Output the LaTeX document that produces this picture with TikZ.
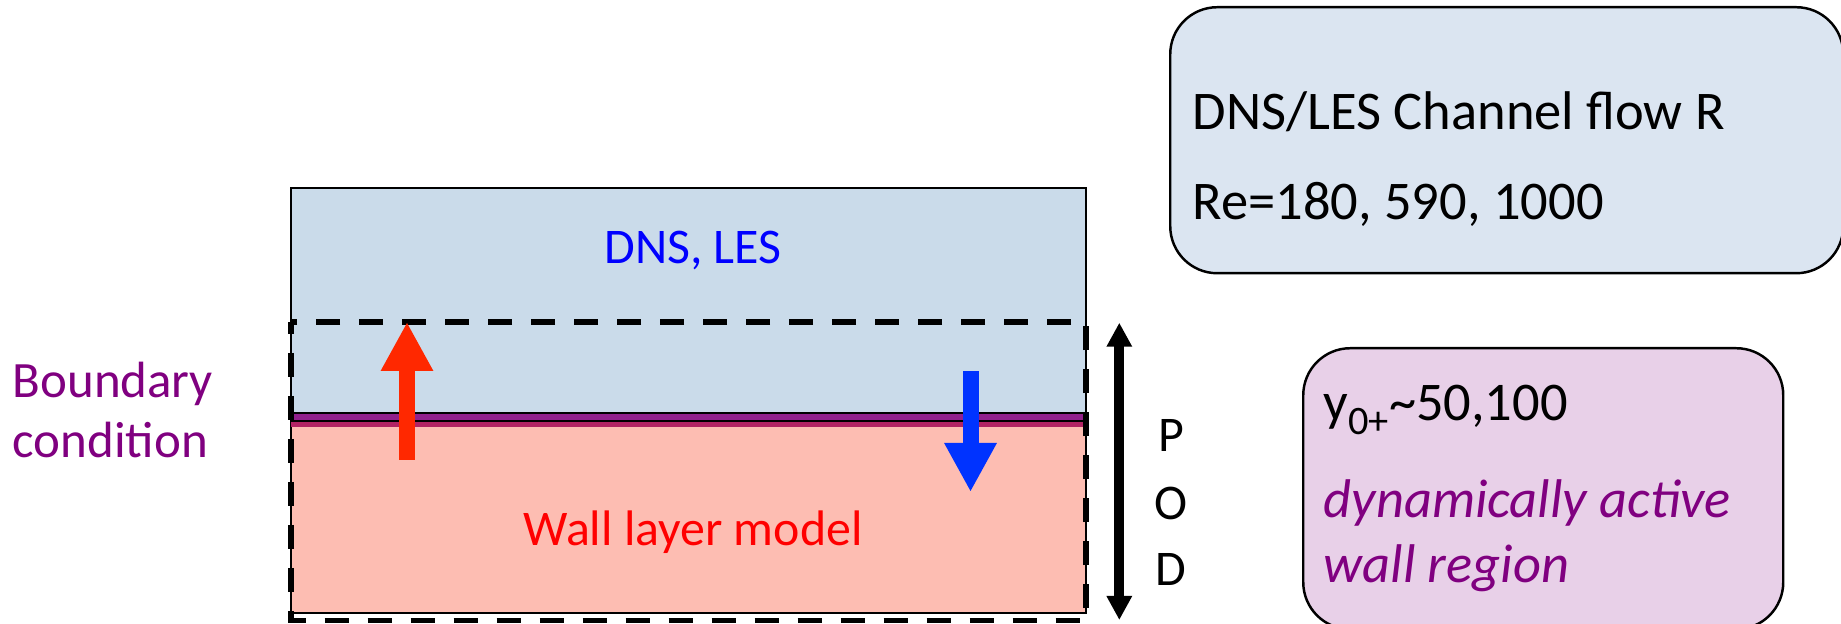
\documentclass[tikz,border=0pt]{standalone}
\usepackage{fontspec}
\setmainfont{Carlito}
\usetikzlibrary{positioning}
\usetikzlibrary{arrows.meta}
\definecolor{chanblue}{RGB}{202,219,234}
\definecolor{boxblue}{RGB}{219,229,241}
\definecolor{wallpink}{RGB}{253,189,178}
\definecolor{bcpurple}{RGB}{128,0,128}
\definecolor{bandpurple}{RGB}{145,32,140}
\definecolor{bandred}{RGB}{178,36,100}
\definecolor{boxlilac}{RGB}{232,208,232}
\definecolor{uparrow}{RGB}{255,40,0}
\definecolor{downarrow}{RGB}{0,51,255}
\tikzstyle{every node}=[font=\fontsize{14.2}{17}\selectfont,inner sep=0pt]
\tikzstyle{every path}=[line width=0.4pt,line join=miter]
\tikzstyle{infobox}=[draw,line width=0.7pt,rounded corners=4.7mm,anchor=north west]
\tikzstyle{boxtext}=[font=\fontsize{15.5}{19}\selectfont,anchor=base west]
\tikzstyle{flux}=[line width=1.6mm,-{Triangle[length=4.9mm,width=4.9mm]}]
\tikzstyle{window}=[line width=1.6pt,dash pattern=on 2.4mm off 1.9mm,dash phase=1.2mm]
\tikzstyle{podline}=[line width=1mm,{Triangle[length=2.4mm,width=2.4mm]}-{Triangle[length=2.4mm,width=2.4mm]}]

\begin{document}
\begin{tikzpicture}[x=0.1mm,y=-0.1mm]
\useasboundingbox (0,0) rectangle (1841,624);
% channel
\draw[fill=wallpink,line width=0.5pt] (291,421) rectangle (1086,613);
\draw[fill=chanblue,line width=0.6pt] (291,188) rectangle (1086,413);
\fill[bandpurple] (291,414.5) rectangle (1086,420.5);
\fill[bandred] (291,421.5) rectangle (1086,427);
\draw[line width=0.6pt] (291,421)--(1086,421);
\draw[window] (291,322) rectangle (1086,620.5);
\node[text=blue,anchor=base] (dns) at (693,264) {DNS, LES};
\node[text=red,anchor=base] (wall) at (693,546) {Wall layer model};
% exchange across the matching plane
\coordinate (up0) at (407,460); \coordinate (up1) at (407,322);
\coordinate (dn0) at (970.5,371.5); \coordinate (dn1) at (970.5,492);
\draw[flux,uparrow] (up0)--(up1);
\draw[flux,downarrow] (dn0)--(dn1);
% boundary condition
\node[text=bcpurple,anchor=base west,font=\fontsize{14.5}{17}\selectfont] (bc1) at (12,398) {Boundary};
\node[text=bcpurple,anchor=base west,font=\fontsize{14.5}{17}\selectfont] (bc2) at (12,458) {condition};
% POD range
\coordinate (podtop) at (1119.3,322.7); \coordinate (podbot) at (1119.3,620);
\draw[podline] (podtop)--(podbot);
\node (p) at (1171,435) {P};
\node (o) at (1171,503) {O};
\node (d) at (1171,569) {D};
% info boxes
\node[infobox,fill=boxblue,minimum width=67.3mm,minimum height=26.6mm] (flow) at (1169,6) {};
\node[boxtext] (flowA) at (1192,130) {DNS/LES Channel flow R};
\node[boxtext] (flowB) at (1192,220) {Re=180, 590, 1000};
\node[infobox,fill=boxlilac,minimum width=48mm,minimum height=28.1mm] (region) at (1302,347) {};
\node[boxtext] (regionA) at (1323,421) {y\raisebox{-3.8pt}{\fontsize{11.5}{13}\selectfont 0+}\textasciitilde 50,100};
\node[boxtext,text=bcpurple,font=\fontsize{15.5}{19}\selectfont\itshape] (regionB) at (1323,518) {dynamically active};
\node[boxtext,text=bcpurple,font=\fontsize{15.5}{19}\selectfont\itshape] (regionC) at (1323,583) {wall region};
\end{tikzpicture}
\end{document}
